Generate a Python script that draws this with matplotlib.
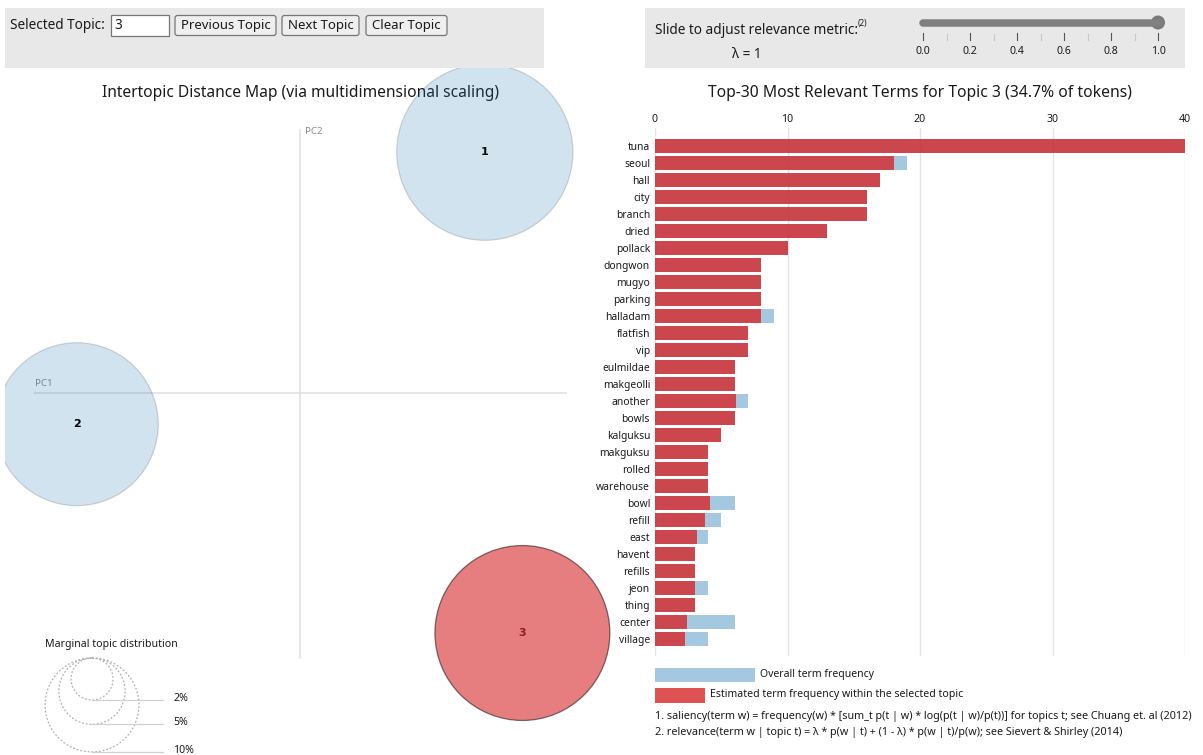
import matplotlib
matplotlib.use('Agg')
import matplotlib.pyplot as plt
from matplotlib.patches import Circle, Rectangle, FancyBboxPatch
import numpy as np

plt.rcParams['font.family'] = ['Noto Sans', 'DejaVu Sans']

# ---------------- data ----------------
terms = ['tuna', 'seoul', 'hall', 'city', 'branch', 'dried', 'pollack', 'dongwon',
         'mugyo', 'parking', 'halladam', 'flatfish', 'vip', 'eulmildae', 'makgeolli',
         'another', 'bowls', 'kalguksu', 'makguksu', 'rolled', 'warehouse', 'bowl',
         'refill', 'east', 'havent', 'refills', 'jeon', 'thing', 'center', 'village']
topic_freq = [40, 18, 17, 16, 16, 13, 10, 8, 8, 8, 8, 7, 7, 6, 6, 6.1, 6, 5, 4, 4, 4,
              4.15, 3.8, 3.15, 3, 3, 3.05, 3, 2.4, 2.25]
total_freq = [40, 19, 17, 16, 16, 13, 10, 8, 8, 8, 9, 7, 7, 6, 6, 7, 6, 5, 4, 4, 4,
              6, 5, 4, 3, 3, 4, 3, 6, 4]
freq_ticks = [0, 10, 20, 30, 40]

topic_ids = [1, 2, 3]
topic_pct = [35.2, 30.1, 34.7]
pc1 = [0.231, -0.279, 0.278]
pc2 = [0.301, -0.039, -0.300]
selected_topic = 3
legend_pct = [2, 5, 10]
lambda_value = 1
slider_major = [0.0, 0.2, 0.4, 0.6, 0.8, 1.0]
slider_minor = [0.1, 0.3, 0.5, 0.7, 0.9]

W, H = 1203, 755
TXT = '#1a1a1a'
BLUE = '#1f77b4'
RED = '#d62728'
UI_FS = 9.8

fig = plt.figure(figsize=(W / 100, H / 100), dpi=100)


def box(x0, y0, x1, y1):
    return [x0 / W, 1 - y1 / H, (x1 - x0) / W, (y1 - y0) / H]


# background / pixel-coordinate axes
bg = fig.add_axes([0, 0, 1, 1])
bg.set_xlim(0, W)
bg.set_ylim(H, 0)
bg.axis('off')

# ---------- top-left control panel ----------
bg.add_patch(Rectangle((5, 8), 539, 60, fc='#e8e8e8', ec='none'))
bg.text(10, 25.5, 'Selected Topic:', fontsize=UI_FS, va='center', ha='left', color=TXT)
bg.add_patch(Rectangle((111, 15), 58, 21, fc='white', ec='#767676', lw=0.9))
bg.text(114, 25.5, str(selected_topic), fontsize=UI_FS, va='center', ha='left', color=TXT)
for x0, x1, lab in [(175, 276, 'Previous Topic'), (282, 359, 'Next Topic'),
                    (366, 447, 'Clear Topic')]:
    bg.add_patch(FancyBboxPatch((x0, 15.5), x1 - x0, 20,
                                boxstyle='round,pad=0,rounding_size=2.5',
                                fc='#efefef', ec='#767676', lw=0.9))
    bg.text((x0 + x1) / 2, 25.5, lab, fontsize=UI_FS * 0.97, va='center', ha='center',
            color=TXT)

# ---------- top-right slider panel ----------
bg.add_patch(Rectangle((645, 8), 540, 60, fc='#e8e8e8', ec='none'))
t = bg.text(655, 30, 'Slide to adjust relevance metric:', fontsize=UI_FS, va='center',
            ha='left', color=TXT)
bg.annotate('(2)', xy=(1, 0.62), xycoords=t, fontsize=5.8, va='bottom', ha='left',
            color=TXT)
bg.text(747, 55, '\u03bb = %g' % lambda_value, fontsize=UI_FS, va='center', ha='center',
        color=TXT)

S0, S1 = 923, 1158


def sx(v):
    return S0 + (S1 - S0) * v


bg.plot([sx(0), sx(1)], [22.5, 22.5], color='#808080', lw=5.4, solid_capstyle='round')
bg.add_patch(Circle((sx(lambda_value), 22.5), 7, fc='#7a7a7a', ec='none'))
for v in slider_major:
    bg.plot([sx(v), sx(v)], [33, 40], color='#555555', lw=0.8)
    bg.text(sx(v), 52, '%.1f' % v, fontsize=7.6, ha='center', va='center', color=TXT)
for v in slider_minor:
    bg.plot([sx(v), sx(v)], [34, 39.5], color='#c8c8c8', lw=0.8)

# ---------- titles ----------
bg.text(300, 93, 'Intertopic Distance Map (via multidimensional scaling)',
        fontsize=11.2, ha='center', va='center', color=TXT)
bg.text(920, 93, 'Top-%d Most Relevant Terms for Topic %d (%.1f%% of tokens)'
        % (len(terms), selected_topic, topic_pct[selected_topic - 1]),
        fontsize=11.3, ha='center', va='center', color=TXT)

# ---------- intertopic distance map ----------
SCALE = 800.0  # px per MDS unit
OX, OY = 300, 393
RPX = 14.85    # px radius per sqrt(percent)
mx0, my0, mx1, my1 = 5, 68, 640, 755
am = fig.add_axes(box(mx0, my0, mx1, my1))
am.set_xlim((mx0 - OX) / SCALE, (mx1 - OX) / SCALE)
am.set_ylim((OY - my1) / SCALE, (OY - my0) / SCALE)
am.axis('off')
am.patch.set_visible(False)

am.plot([(35 - OX) / SCALE, (566 - OX) / SCALE], [0, 0], color='#e4e4e4', lw=1.3, zorder=1)
am.plot([0, 0], [(OY - 658) / SCALE, (OY - 130) / SCALE], color='#e4e4e4', lw=1.3, zorder=1)
am.text((35 - OX) / SCALE, 9 / SCALE, 'PC1', fontsize=7, color='#8a8a8a', ha='left',
        va='center', zorder=1)
am.text((305 - OX) / SCALE, (OY - 131) / SCALE, 'PC2', fontsize=7, color='#8a8a8a',
        ha='left', va='center', zorder=1)

for tid, p, x, y in zip(topic_ids, topic_pct, pc1, pc2):
    r = RPX * np.sqrt(p) / SCALE
    if tid == selected_topic:
        am.add_patch(Circle((x, y), r, fc=(0.839, 0.153, 0.157, 0.6), ec='none', zorder=2))
        am.add_patch(Circle((x, y), r, fc='none', ec=(0, 0, 0, 0.5), lw=0.9, zorder=3))
        am.text(x, y, str(tid), fontsize=8, fontweight='bold', family='DejaVu Sans',
                color='#8f1d24', ha='center', va='center', zorder=4)
    else:
        am.add_patch(Circle((x, y), r, fc=(0.122, 0.467, 0.706, 0.2),
                            ec=(0, 0, 0, 0.15), lw=0.9, zorder=2))
        am.text(x, y, str(tid), fontsize=8, fontweight='bold', family='DejaVu Sans',
                color='black', ha='center', va='center', zorder=4)

# ---------- marginal topic distribution legend ----------
bg.text(45, 644, 'Marginal topic distribution', fontsize=7.6, ha='left', va='center',
        color=TXT)
LCX, LTOP = 92, 658
for p in legend_pct:
    r = RPX * np.sqrt(p)
    bg.add_patch(Circle((LCX, LTOP + r), r, fc='none', ec='#b0b0b0', lw=0.9,
                        ls=(0, (1.5, 1.5))))
    bg.plot([LCX, 163], [LTOP + 2 * r, LTOP + 2 * r], color='#d0d0d0', lw=0.9)
    bg.text(173, LTOP + 2 * r + 1, '%d%%' % p, fontsize=7.6, ha='left', va='baseline',
            color=TXT)

# ---------- bar chart ----------
ab = fig.add_axes(box(655, 128, 1185, 656))
ypos = np.arange(len(terms))
ab.barh(ypos, total_freq, height=0.79, color=BLUE, alpha=0.4, zorder=2)
ab.barh(ypos, topic_freq, height=0.79, color=RED, alpha=0.8, zorder=3)
ab.set_xlim(0, 40)
ab.set_ylim(30.0, -18 / 17)
ab.set_yticks(ypos)
ab.set_yticklabels(terms)
ab.set_xticks(freq_ticks)
ab.xaxis.tick_top()
ab.tick_params(axis='x', length=0, pad=2.5, labelsize=7.6, labelcolor=TXT)
ab.tick_params(axis='y', length=0, pad=3.6, labelsize=7.4, labelcolor=TXT)
ab.xaxis.grid(True, color='#e4e4e4', lw=1)
ab.set_axisbelow(True)
for s in ab.spines.values():
    s.set_visible(False)
ab.patch.set_visible(False)

# ---------- bar legend & footnotes ----------
bg.add_patch(Rectangle((655, 668), 100, 14, fc=BLUE, alpha=0.4, ec='none'))
bg.text(760, 675, 'Overall term frequency', fontsize=7.5, ha='left', va='center',
        color=TXT)
bg.add_patch(Rectangle((655, 688), 50, 15, fc=RED, alpha=0.8, ec='none'))
bg.text(710, 695, 'Estimated term frequency within the selected topic', fontsize=7.6,
        ha='left', va='center', color=TXT)
bg.text(655, 717, '1. saliency(term w) = frequency(w) * [sum_t p(t | w) * log(p(t | w)/p(t))]'
        ' for topics t; see Chuang et. al (2012)', fontsize=7.75, ha='left', va='center',
        color=TXT)
bg.text(655, 732, '2. relevance(term w | topic t) = \u03bb * p(w | t) + (1 - \u03bb) * '
        'p(w | t)/p(w); see Sievert & Shirley (2014)', fontsize=7.75, ha='left',
        va='center', color=TXT)

fig.savefig('out.png', dpi=100)
